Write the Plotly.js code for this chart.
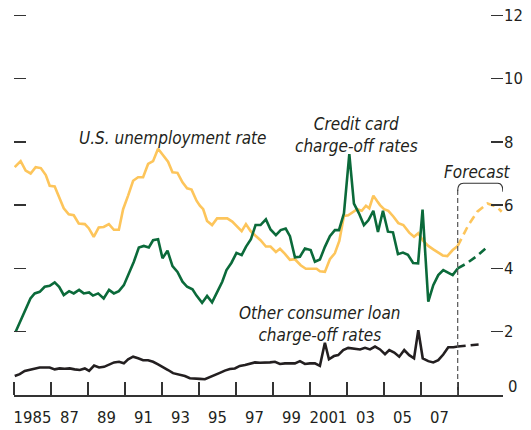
<!DOCTYPE html>
<html>
<head>
<meta charset="utf-8">
<script src="https://cdn.plot.ly/plotly-3.0.1.min.js"></script>
<style>html,body{margin:0;padding:0;background:#fff;}#chart{width:531px;height:430px;}</style>
</head>
<body>
<div id="chart"></div>
<script>
// U.S. unemployment rate (percent), actual
const unempYears = [1984.04,1984.36,1984.63,1984.90,1985.17,1985.45,1985.72,1985.93,1986.20,1986.44,1986.69,1986.96,1987.23,1987.50,1987.83,1988.04,1988.31,1988.58,1988.85,1989.13,1989.40,1989.67,1989.90,1990.17,1990.44,1990.71,1990.98,1991.25,1991.52,1991.79,1992.06,1992.33,1992.57,1992.84,1993.11,1993.36,1993.60,1993.87,1994.05,1994.23,1994.44,1994.71,1994.98,1995.26,1995.53,1995.80,1996.07,1996.31,1996.54,1996.79,1997.06,1997.33,1997.62,1997.87,1998.16,1998.38,1998.65,1998.92,1999.19,1999.50,1999.78,2000.09,2000.36,2000.54,2000.81,2001.08,2001.35,2001.59,2001.84,2002.07,2002.31,2002.56,2002.80,2003.03,2003.21,2003.43,2003.64,2003.79,2004.01,2004.24,2004.51,2004.78,2005.05,2005.37,2005.63,2005.86,2006.13,2006.40,2006.67,2006.94,2007.18,2007.43,2007.72,2007.99];
const unempRate = [7.2,7.39,7.09,7.0,7.2,7.17,6.95,6.61,6.59,6.24,5.9,5.71,5.68,5.42,5.4,5.27,5.0,5.29,5.31,5.4,5.22,5.22,5.87,6.3,6.77,6.88,6.88,7.3,7.39,7.78,7.59,7.37,7.04,7.02,6.72,6.53,6.49,6.14,5.98,5.87,5.5,5.37,5.58,5.58,5.58,5.48,5.31,5.18,5.4,5.18,5.03,4.89,4.69,4.69,4.52,4.62,4.46,4.27,4.29,4.1,3.99,3.99,3.99,3.91,3.89,4.29,4.48,4.87,5.66,5.68,5.77,5.87,5.82,5.98,5.9,6.3,6.12,6.0,5.87,5.82,5.64,5.43,5.37,5.13,5.0,5.11,4.87,4.71,4.6,4.5,4.41,4.39,4.58,4.71];
// U.S. unemployment rate, forecast
const unempFcYears = [2007.99,2008.57,2009.05,2009.60,2010.10,2010.37];
const unempFcRate = [4.71,5.37,5.79,6.05,5.95,5.79];

// Credit card charge-off rates (percent), actual
const ccYears = [1984.09,1984.36,1984.63,1984.89,1985.12,1985.39,1985.66,1985.93,1986.20,1986.44,1986.69,1986.98,1987.23,1987.52,1987.77,1988.06,1988.27,1988.55,1988.85,1989.14,1989.40,1989.67,1989.94,1990.21,1990.48,1990.75,1991.02,1991.29,1991.52,1991.79,1992.03,1992.30,1992.57,1992.84,1993.11,1993.36,1993.65,1993.87,1994.17,1994.44,1994.71,1994.95,1995.26,1995.49,1995.76,1996.03,1996.31,1996.54,1996.81,1997.06,1997.33,1997.62,1997.87,1998.16,1998.42,1998.69,1998.92,1999.19,1999.46,1999.73,2000.04,2000.27,2000.54,2000.81,2001.08,2001.35,2001.57,2001.84,2002.13,2002.38,2002.65,2002.92,2003.16,2003.43,2003.68,2003.95,2004.22,2004.49,2004.76,2005.03,2005.30,2005.58,2005.85,2006.09,2006.40,2006.67,2006.94,2007.21,2007.48,2007.72,2007.99];
const ccRate = [2.0,2.37,2.74,3.05,3.21,3.26,3.42,3.45,3.56,3.42,3.16,3.28,3.21,3.32,3.21,3.24,3.14,3.21,3.05,3.32,3.21,3.28,3.47,3.84,4.21,4.66,4.71,4.66,4.89,4.92,4.32,4.56,4.07,3.89,3.58,3.42,3.34,3.14,2.91,3.13,2.93,3.21,3.58,3.95,4.18,4.49,4.42,4.68,4.92,5.37,5.37,5.55,5.23,5.05,5.21,5.26,5.02,4.35,4.37,4.63,4.58,4.21,4.28,4.68,5.02,5.21,5.21,5.74,7.61,6.05,5.74,5.37,5.52,5.82,5.15,5.82,5.16,5.14,4.45,4.5,4.43,4.17,4.16,5.86,2.95,3.47,3.79,3.95,3.86,3.79,4.0];
// Credit card charge-off rates, forecast
const ccFcYears = [2007.99,2008.48,2008.98,2009.52];
const ccFcRate = [4.0,4.16,4.37,4.64];

// Other consumer loan charge-off rates (percent), actual
const olYears = [1984.04,1984.31,1984.58,1984.85,1985.12,1985.39,1985.66,1985.93,1986.20,1986.47,1986.74,1987.01,1987.28,1987.56,1987.83,1988.06,1988.33,1988.60,1988.87,1989.14,1989.41,1989.68,1989.94,1990.17,1990.44,1990.71,1990.98,1991.25,1991.52,1991.79,1992.06,1992.33,1992.60,1992.87,1993.24,1993.51,1993.78,1994.05,1994.32,1994.59,1994.86,1995.13,1995.40,1995.67,1995.94,1996.21,1996.49,1996.76,1997.03,1997.30,1997.57,1997.84,1998.11,1998.38,1998.65,1998.92,1999.19,1999.46,1999.73,2000.00,2000.27,2000.54,2000.81,2001.03,2001.30,2001.53,2001.80,2002.07,2002.34,2002.71,2002.98,2003.25,2003.52,2003.79,2004.06,2004.29,2004.56,2004.83,2005.10,2005.37,2005.63,2005.86,2006.10,2006.40,2006.67,2006.94,2007.21,2007.48,2007.76,2007.99];
const olRate = [0.6,0.66,0.76,0.79,0.84,0.87,0.87,0.87,0.81,0.84,0.83,0.84,0.81,0.79,0.84,0.76,0.93,0.87,0.89,0.97,1.03,1.05,1.0,1.13,1.21,1.16,1.1,1.1,1.05,0.97,0.89,0.79,0.69,0.66,0.6,0.53,0.53,0.51,0.5,0.56,0.63,0.7,0.77,0.82,0.84,0.92,0.95,0.98,1.03,1.02,1.02,1.03,1.05,0.98,1.0,1.0,1.0,1.07,0.98,1.0,1.0,0.92,1.65,1.13,1.23,1.26,1.42,1.49,1.47,1.44,1.49,1.44,1.53,1.44,1.29,1.42,1.34,1.21,1.42,1.26,1.16,2.05,1.16,1.07,1.03,1.1,1.28,1.51,1.51,1.53];
// Other consumer loan charge-off rates, forecast
const olFcYears = [2007.99,2008.48,2009.38];
const olFcRate = [1.53,1.56,1.61];

// Axis ticks and labels
const tickYears = [1984,1986,1988,1990,1992,1994,1996,1998,2000,2002,2004,2006,2008];
const labelYears = [1985,1987,1989,1991,1993,1995,1997,1999,2001,2003,2005,2007];
const labelText = ['1985','87','89','91','93','95','97','99','2001','03','05','07'];
const yTicks = [2,4,6,8,10,12];

const YELLOW = '#FDC55B', GREEN = '#0B6A3A', BLACK = '#231F20', INK = '#231F20';
const TICKFONT = {family: '"DejaVu Sans Condensed", sans-serif', size: 16.5, color: INK};
const NOTEFONT = {family: '"DejaVu Sans Condensed", sans-serif', size: 17, color: INK, style: 'italic'};

function line(x, y, color, dashed) {
  return {x: x, y: y, type: 'scatter', mode: 'lines', hoverinfo: 'skip', cliponaxis: false,
          line: {color: color, width: 2.6, dash: dashed ? '8px,5px' : 'solid'}};
}

const data = [
  line(unempYears, unempRate, YELLOW, false),
  line(unempFcYears, unempFcRate, YELLOW, true),
  line(ccYears, ccRate, GREEN, false),
  line(ccFcYears, ccFcRate, GREEN, true),
  line(olYears, olRate, BLACK, false),
  line(olFcYears, olFcRate, BLACK, true)
];

const layout = {
  width: 531, height: 430,
  margin: {l: 14, r: 28, t: 13, b: 35},
  paper_bgcolor: '#ffffff', plot_bgcolor: '#ffffff',
  showlegend: false,
  xaxis: {
    range: [1984, 2010.44], tickmode: 'array', tickvals: labelYears, ticktext: labelText,
    ticks: '', showgrid: false, zeroline: false, showline: true, linecolor: '#333', linewidth: 1.5,
    tickfont: TICKFONT, ticklabelstandoff: 7, fixedrange: true,
    minor: {tickmode: 'array', tickvals: tickYears, ticks: 'inside', ticklen: 13, tickwidth: 1.4, tickcolor: '#333', showgrid: false}
  },
  yaxis: {
    range: [0, 12.07], side: 'right', tickmode: 'array', tickvals: yTicks,
    ticks: 'inside', ticklen: 12, tickwidth: 1.4, tickcolor: '#333', mirror: 'ticks',
    showline: false, showgrid: false, zeroline: false, tickfont: TICKFONT, fixedrange: true
  },
  shapes: [
    {type: 'line', xref: 'x', yref: 'y', x0: 2007.99, x1: 2007.99, y0: 0, y1: 6.5,
     line: {color: '#555', width: 1.2, dash: '5px,3px'}},
    {type: 'path', xref: 'x', yref: 'y',
     path: 'M 2007.99,6.45 Q 2007.99,6.69 2008.3,6.69 L 2010.15,6.69 Q 2010.44,6.69 2010.44,6.42',
     line: {color: '#333', width: 1.2}}
  ],
  annotations: [
    {x: 1992.59, y: 8.13, xref: 'x', yref: 'y', text: 'U.S. unemployment rate', showarrow: false, font: NOTEFONT},
    {x: 2002.51, y: 8.2, xref: 'x', yref: 'y', text: 'Credit card<br>charge-off rates', showarrow: false, font: NOTEFONT},
    {x: 2000.55, y: 2.24, xref: 'x', yref: 'y', text: 'Other consumer loan<br>charge-off rates', showarrow: false, font: NOTEFONT},
    {x: 2009.04, y: 7.04, xref: 'x', yref: 'y', text: 'Forecast', showarrow: false, font: NOTEFONT},
    {x: 1, xref: 'paper', y: 0, yref: 'y', text: '0', showarrow: false, xanchor: 'left', yshift: 9, xshift: 3, font: TICKFONT}
  ]
};

Plotly.newPlot('chart', data, layout, {staticPlot: true, displayModeBar: false});
</script>
</body>
</html>
